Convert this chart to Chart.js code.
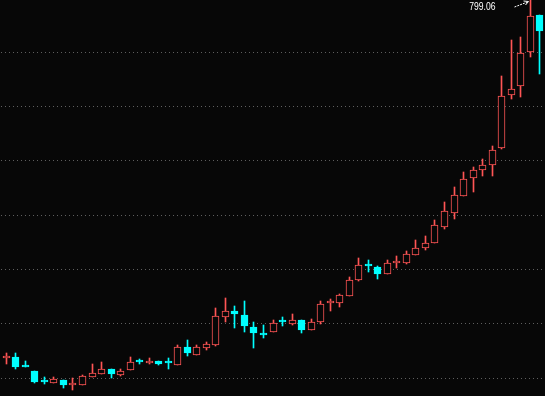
<!DOCTYPE html>
<html>
<head>
<meta charset="utf-8">
<script src="https://cdn.jsdelivr.net/npm/chart.js@4"></script>
<style>
  html, body { margin: 0; padding: 0; background: #070707; }
  #wrap { width: 545px; height: 396px; }
</style>
</head>
<body>
<div id="wrap"><canvas id="c"></canvas></div>
<script>
// daily candles, oldest first
const opens  = [138, 139, 121, 113, 93.5, 91, 97, 87, 88, 103, 108.5, 117, 106.5, 115, 132, 127.5, 132, 129.5, 125,
  157.5, 143.5, 156.5, 162, 213.5, 224, 217, 194.5, 179.5, 186, 204, 200.5, 207.5, 189.5, 204, 238, 238, 252, 281,
  308, 304.5, 292.5, 312, 313, 327.5, 340.5, 349.5, 379, 405, 436, 468, 483, 492, 524.5, 622, 638.5, 701, 768.5];
const highs  = [147, 147, 132, 113.5, 102, 102, 97.5, 101, 105.5, 126, 130, 117.5, 117, 139, 135.5, 137, 132.5, 137, 161,
  170.5, 161, 167, 229.5, 248, 233, 242, 203.5, 198, 207.5, 213, 218.5, 208, 209, 242, 246, 254.5, 286.5, 321.5,
  317.5, 307, 317.5, 325, 334.5, 354.5, 362, 391, 424.5, 452, 480, 489, 503.5, 527.5, 656, 722, 728, 799.06, 769];
const lows   = [127, 118, 120, 92, 90, 90.5, 83, 79, 88, 102.5, 108, 101, 105, 114.5, 126, 127, 124.5, 118, 124.5,
  141, 143, 152.5, 160, 204, 193, 186, 156.5, 174.5, 185.5, 197, 198.5, 184, 189, 200.5, 224.5, 232, 251.5, 279.5,
  296, 283, 292, 303, 311, 327, 336.5, 349, 375.5, 394, 435.5, 443.5, 473, 473, 522.5, 614.5, 618.5, 692, 660];
const closes = [141, 121, 120, 94, 92.5, 99, 88, 89, 104, 109, 116.5, 108.5, 113.5, 130, 130.5, 132, 127, 128.5, 157.5,
  146.5, 157.5, 163, 214.5, 224, 218.5, 197, 184, 179, 202, 203.5, 207, 189.5, 203.5, 237, 240, 253, 281, 308,
  306, 292.5, 311.5, 314, 328, 339.5, 348.5, 381.5, 407.5, 437, 466, 483, 492, 519.5, 619, 632, 698.5, 767, 740];
const gridLevels = [100, 200, 300, 400, 500, 600, 700];

const UP = "#ff5555";
const DOWN = "#00ffff";
const BG = "#070707";

const labels = opens.map((_, i) => i);
const isUp = opens.map((o, i) => closes[i] >= o);

// snap bars to whole pixels so the thin strokes stay crisp
const pixelSnap = {
  id: "pixelSnap",
  beforeDatasetsDraw(chart) {
    chart.data.datasets.forEach((_, d) => {
      chart.getDatasetMeta(d).data.forEach((el) => {
        el.x = Math.round(el.x) + 0.5;
        el.y = Math.round(el.y);
        el.base = Math.round(el.base);
      });
    });
  },
};

// 🏷️ marks the highest high with its value and a little arrow
const maxLabel = {
  id: "maxLabel",
  afterDatasetsDraw(chart) {
    const { ctx, scales } = chart;
    let k = 0;
    highs.forEach((h, i) => { if (h > highs[k]) k = i; });
    const x = Math.round(scales.x.getPixelForValue(k)) + 0.5;
    const y = Math.max(scales.y.getPixelForValue(highs[k]), 1);
    ctx.save();
    ctx.fillStyle = "#ffffff";
    ctx.font = '11px "Liberation Sans", sans-serif';
    ctx.textAlign = "right";
    ctx.textBaseline = "top";
    ctx.save();
    ctx.translate(x - 35, y);
    ctx.scale(0.78, 1);
    ctx.fillText(highs[k].toFixed(2), 0, 0);
    ctx.restore();
    ctx.strokeStyle = "#ffffff";
    ctx.lineWidth = 1;
    ctx.setLineDash([2, 1]);
    ctx.beginPath();
    ctx.moveTo(x - 16, y + 6);
    ctx.lineTo(x - 3, y + 1);
    ctx.stroke();
    ctx.setLineDash([]);
    ctx.beginPath();
    ctx.moveTo(x - 7, y);
    ctx.lineTo(x - 2, y + 0.5);
    ctx.lineTo(x - 5, y + 4);
    ctx.stroke();
    ctx.restore();
  },
};

new Chart(document.getElementById("c"), {
  type: "bar",
  data: {
    labels,
    datasets: [
      {
        // wicks
        data: lows.map((l, i) => [l, highs[i]]),
        backgroundColor: isUp.map((u) => (u ? UP : DOWN)),
        borderWidth: 0,
        barThickness: 1,
        grouped: false,
        order: 1,
      },
      {
        // bodies
        data: opens.map((o, i) => [o, closes[i]]),
        backgroundColor: isUp.map((u) => (u ? BG : DOWN)),
        borderColor: isUp.map((u) => (u ? UP : DOWN)),
        borderWidth: 1,
        borderSkipped: false,
        barThickness: 7,
        minBarLength: 2,
        grouped: false,
        order: 0,
      },
    ],
  },
  options: {
    responsive: true,
    maintainAspectRatio: false,
    animation: false,
    layout: { padding: { left: 1, right: 1, top: 0, bottom: 0 } },
    plugins: {
      legend: { display: false },
      tooltip: { enabled: false },
    },
    scales: {
      x: { display: false, offset: true },
      y: {
        min: 67.4,
        max: 796.3,
        afterBuildTicks: (axis) => {
          axis.ticks = gridLevels.map((v) => ({ value: v }));
        },
        ticks: { display: false },
        grid: { color: "#5e5e5e", drawTicks: false, lineWidth: 1 },
        border: { display: false, dash: [1, 3] },
      },
    },
  },
  plugins: [pixelSnap, maxLabel],
});
</script>
</body>
</html>
